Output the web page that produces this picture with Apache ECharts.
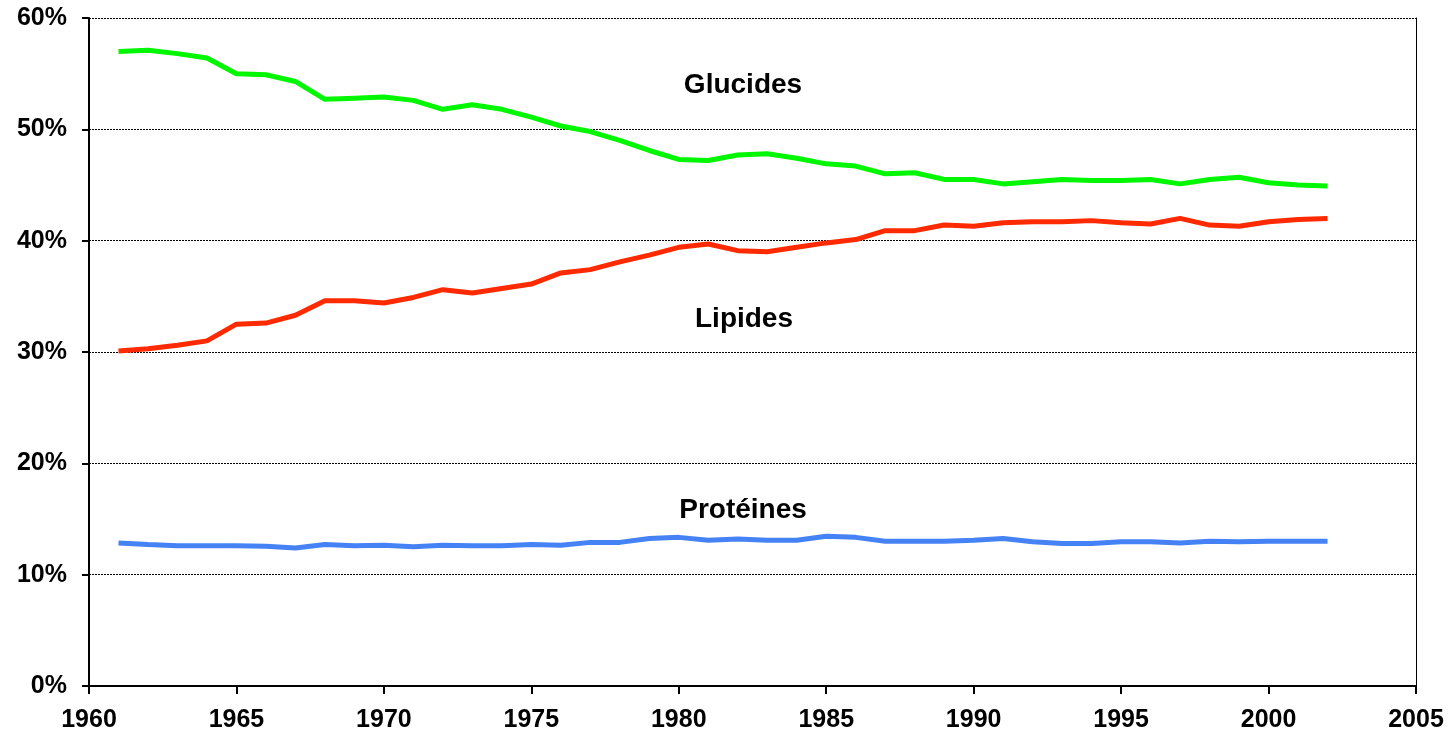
<!DOCTYPE html>
<html><head><meta charset="utf-8">
<script src="https://cdn.jsdelivr.net/npm/echarts@6/dist/echarts.min.js"></script>
<style>html,body{margin:0;padding:0;background:#fff}#c{width:1449px;height:734px}</style>
</head><body><div id="c"></div>
<script>
const years = [1961,1962,1963,1964,1965,1966,1967,1968,1969,1970,1971,1972,1973,1974,1975,1976,1977,1978,1979,1980,1981,1982,1983,1984,1985,1986,1987,1988,1989,1990,1991,1992,1993,1994,1995,1996,1997,1998,1999,2000,2001,2002];
const glucides = [57.0,57.1,56.8,56.4,55.0,54.9,54.3,52.7,52.8,52.9,52.6,51.8,52.2,51.8,51.1,50.3,49.8,49.0,48.1,47.3,47.2,47.7,47.8,47.4,46.9,46.7,46.0,46.1,45.5,45.5,45.1,45.3,45.5,45.4,45.4,45.5,45.1,45.5,45.7,45.2,45.0,44.9];
const lipides = [30.1,30.3,30.6,31.0,32.5,32.6,33.3,34.6,34.6,34.4,34.9,35.6,35.3,35.7,36.1,37.1,37.4,38.1,38.7,39.4,39.7,39.1,39.0,39.4,39.8,40.1,40.9,40.9,41.4,41.3,41.6,41.7,41.7,41.8,41.6,41.5,42.0,41.4,41.3,41.7,41.9,42.0];
const proteines = [12.85,12.7,12.6,12.6,12.6,12.55,12.4,12.7,12.6,12.65,12.5,12.65,12.6,12.6,12.7,12.65,12.9,12.9,13.25,13.35,13.1,13.2,13.1,13.1,13.45,13.35,13.0,13.0,13.0,13.1,13.25,12.95,12.8,12.8,12.95,12.95,12.85,13.0,12.95,13.0,13.0,13.0];
const seriesNames = ['Glucides','Lipides','Protéines'];
const colors = ['#00F700','#FF2A00','#4582F5'];

const chart = echarts.init(document.getElementById('c'));
const mk = (arr) => years.map((y,i)=>[y, arr[i]/100]);
const font = '"Liberation Sans", Arial, sans-serif';
chart.setOption({
  animation:false,
  grid:{left:89,right:33,top:18,bottom:48},
  xAxis:{type:'value',min:1960,max:2005,interval:5,
    axisLine:{lineStyle:{color:'#000',width:2}},
    axisTick:{show:true,length:8,lineStyle:{color:'#000',width:2}},
    axisLabel:{color:'#000',fontFamily:font,fontWeight:'bold',fontSize:25,margin:22,
      formatter:v=>String(v)},
    splitLine:{show:false}},
  yAxis:[{type:'value',min:0,max:0.6,interval:0.1,
    axisLine:{show:true,lineStyle:{color:'#000',width:2}},
    axisTick:{show:true,length:7,lineStyle:{color:'#000',width:2}},
    axisLabel:{color:'#000',fontFamily:font,fontWeight:'bold',fontSize:25,margin:22,
      formatter:v=>Math.round(v*100)+'%'},
    splitLine:{show:true,lineStyle:{color:'#000',width:1,type:[2,1]}}},
    {type:'value',position:'right',min:0,max:0.6,interval:0.1,
    axisLine:{show:true,lineStyle:{color:'#000',width:1}},
    axisTick:{show:false},axisLabel:{show:false},splitLine:{show:false}}],
  series:[
    {name:seriesNames[0],type:'line',data:mk(glucides),showSymbol:false,lineStyle:{color:colors[0],width:5},itemStyle:{color:colors[0]}},
    {name:seriesNames[1],type:'line',data:mk(lipides),showSymbol:false,lineStyle:{color:colors[1],width:5},itemStyle:{color:colors[1]}},
    {name:seriesNames[2],type:'line',data:mk(proteines),showSymbol:false,lineStyle:{color:colors[2],width:5},itemStyle:{color:colors[2]}}
  ],
  graphic:[
    {type:'text',x:743,y:85,style:{text:seriesNames[0],font:'bold 28px '+font,fill:'#000',textAlign:'center',textVerticalAlign:'middle'}},
    {type:'text',x:744,y:319,style:{text:seriesNames[1],font:'bold 28px '+font,fill:'#000',textAlign:'center',textVerticalAlign:'middle'}},
    {type:'text',x:743,y:510,style:{text:seriesNames[2],font:'bold 28px '+font,fill:'#000',textAlign:'center',textVerticalAlign:'middle'}}
  ]
});
</script></body></html>
